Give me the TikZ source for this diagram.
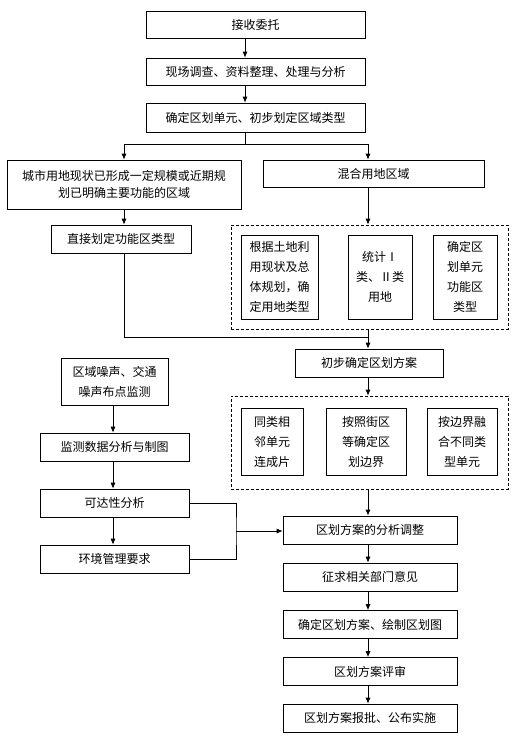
\documentclass[tikz,border=0pt]{standalone}
\usepackage{fontspec}
\setmainfont{Noto Sans CJK SC}
\usetikzlibrary{arrows.meta}
\tikzset{>={Latex[length=6pt,width=5pt]}}
\colorlet{penColor}{black}
\tikzset{
  box/.style={draw=penColor,line width=0.7pt,inner sep=0pt,align=center,
    font=\fontsize{12}{20}\selectfont},
  dashBox/.style={draw=penColor,line width=0.7pt,dash pattern=on 3pt off 2pt,inner sep=0pt},
  link/.style={penColor,line width=0.7pt}
}

\begin{document}
\begin{tikzpicture}[x=1pt,y=-1pt]
      \useasboundingbox (0,0) rectangle (531,737);
      \coordinate (topMid) at (245,0);
      \coordinate (colMid) at (368,0);
      \coordinate (leftMid) at (113,0);
      % upper part
      \node [box,minimum width=219pt,minimum height=27pt] (accept) at (255.5,24.5) {接收委托};
      \node [box,minimum width=219pt,minimum height=27pt] (survey) at (255.5,71.5) {现场调查、资料整理、处理与分析};
      \node [box,minimum width=219pt,minimum height=29pt] (unit) at (255.5,117.5) {确定区划单元、初步划定区域类型};
      \node [box,minimum width=234pt,minimum height=49pt,font=\fontsize{12}{17.5}\selectfont] (region) at (124,184.5)
        {城市用地现状已形成一定规模或近期规\\划已明确主要功能的区域};
      \node [box,minimum width=221pt,minimum height=27pt] (mixed) at (373.5,173.5) {混合用地区域};
      \node [box,minimum width=140pt,minimum height=28pt] (direct) at (121,239) {直接划定功能区类型};
      \node [dashBox,minimum width=277pt,minimum height=104pt] (groupA) at (369.5,277) {};
      \node [box,minimum width=77pt,minimum height=84pt] (landA) at (279.5,277) {根据土地利\\用现状及总\\体规划，确\\定用地类型};
      \node [box,minimum width=64pt,minimum height=84pt] (landB) at (380,277) {统计Ⅰ\\类、Ⅱ类\\用地};
      \node [box,minimum width=64pt,minimum height=84pt] (landC) at (465,277) {确定区\\划单元\\功能区\\类型};
      \node [box,minimum width=148pt,minimum height=28pt] (prelim) at (369,363) {初步确定区划方案};
      \node [dashBox,minimum width=277pt,minimum height=93pt] (groupB) at (369.5,442.5) {};
      \node [box,minimum width=62pt,minimum height=67pt] (edgeA) at (272,441.5) {同类相\\邻单元\\连成片};
      \node [box,minimum width=80pt,minimum height=67pt] (edgeB) at (366,441.5) {按照街区\\等确定区\\划边界};
      \node [box,minimum width=70pt,minimum height=67pt] (edgeC) at (462,441.5) {按边界融\\合不同类\\型单元};
      % left column
      \node [box,minimum width=107pt,minimum height=47pt] (noise) at (114.5,381.5) {区域噪声、交通\\噪声布点监测};
      \node [box,minimum width=149pt,minimum height=28pt] (monitor) at (114.5,447) {监测数据分析与制图};
      \node [box,minimum width=149pt,minimum height=28pt] (access) at (114.5,503) {可达性分析};
      \node [box,minimum width=149pt,minimum height=28pt] (envreq) at (114.5,559) {环境管理要求};
      % lower part
      \node [box,minimum width=174pt,minimum height=28pt] (adjust) at (370,530) {区划方案的分析调整};
      \node [box,minimum width=174pt,minimum height=28pt] (opinion) at (370,577) {征求相关部门意见};
      \node [box,minimum width=174pt,minimum height=28pt] (finalize) at (370,624.5) {确定区划方案、绘制区划图};
      \node [box,minimum width=174pt,minimum height=28pt] (review) at (370,671.5) {区划方案评审};
      \node [box,minimum width=174pt,minimum height=28pt] (approve) at (370,718) {区划方案报批、公布实施};
      % connectors
      \draw [link,->] (accept.south -| topMid) -- (survey.north -| topMid);
      \draw [link,->] (survey.south -| topMid) -- (unit.north -| topMid);
      \draw [link] (unit.south -| topMid) -- ++(0,12) coordinate (fork);
      \draw [link,->] (fork) -| (region.north);
      \draw [link,->] (fork) -| (mixed.north -| colMid);
      \draw [link,->] (region.south) -- (region.south |- direct.north);
      \draw [link,->] (mixed.south -| colMid) -- (groupA.north -| colMid);
      \coordinate (join) at (368,337);
      \draw [link] (groupA.south -| colMid) -- (join);
      \draw [link,->] (direct.south -| region.south) |- (join) -- (prelim.north -| colMid);
      \draw [link,->] (prelim.south -| colMid) -- (groupB.north -| colMid);
      \draw [link,->] (groupB.south -| colMid) -- (adjust.north -| colMid);
      \draw [link,->] (adjust.south -| colMid) -- (opinion.north -| colMid);
      \draw [link,->] (opinion.south -| colMid) -- (finalize.north -| colMid);
      \draw [link,->] (finalize.south -| colMid) -- (review.north -| colMid);
      \draw [link,->] (review.south -| colMid) -- (approve.north -| colMid);
      \draw [link,->] (noise.south -| leftMid) -- (monitor.north -| leftMid);
      \draw [link,->] (monitor.south -| leftMid) -- (access.north -| leftMid);
      \draw [link,->] (access.south -| leftMid) -- (envreq.north -| leftMid);
      \coordinate (merge) at (236,531);
      \draw [link] (access.east) -| (merge) |- (envreq.east);
      \draw [link,->] (merge) -- (merge -| adjust.west);
\end{tikzpicture}
\end{document}
